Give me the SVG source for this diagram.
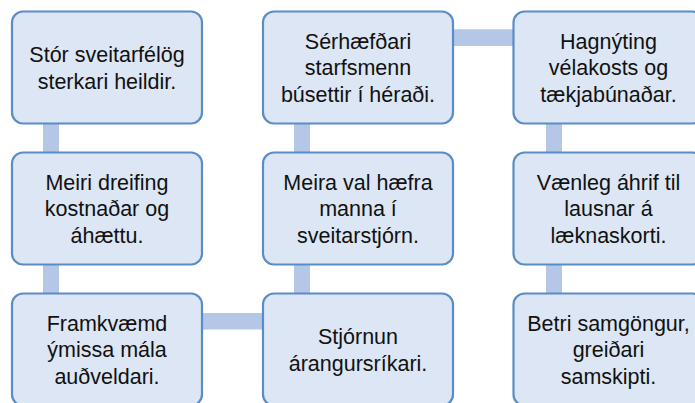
<svg xmlns="http://www.w3.org/2000/svg" width="695" height="403" viewBox="0 0 695 403">
<style>
.box{fill:#DCE6F4;stroke:#5A8CC6;stroke-width:2.2}
.con{fill:#B4C7E7}
text{font-family:"Liberation Sans",Arial,sans-serif;font-size:21.5px;fill:#111;text-anchor:middle}
</style>
<rect width="695" height="403" fill="#fff"/>
<g id="connectors">
<rect class="con" x="43" y="122" width="16" height="32"/>
<rect class="con" x="43" y="264" width="16" height="32"/>
<rect class="con" x="200" y="313" width="65" height="16.5"/>
<rect class="con" x="294" y="264" width="16" height="32"/>
<rect class="con" x="294" y="122" width="16" height="32"/>
<rect class="con" x="450" y="29.3" width="65" height="16.7"/>
<rect class="con" x="546" y="122" width="16" height="32"/>
<rect class="con" x="546" y="264" width="16" height="32"/>
</g>
<g id="n1">
<rect class="box" x="12" y="11.5" width="190" height="112" rx="11"/>
<text x="107" y="62">Stór sveitarfélög</text>
<text x="107" y="88.5">sterkari heildir.</text>
</g>
<g id="n2">
<rect class="box" x="12" y="152.5" width="190" height="112" rx="11"/>
<text x="107" y="189.5">Meiri dreifing</text>
<text x="107" y="216">kostnaðar og</text>
<text x="107" y="242.5">áhættu.</text>
</g>
<g id="n3">
<rect class="box" x="12" y="293.5" width="190" height="112" rx="11"/>
<text x="107" y="330.5">Framkvæmd</text>
<text x="107" y="357">ýmissa mála</text>
<text x="107" y="383.5">auðveldari.</text>
</g>
<g id="n4">
<rect class="box" x="263" y="293.5" width="190" height="112" rx="11"/>
<text x="358" y="344">Stjórnun</text>
<text x="358" y="370.5">árangursríkari.</text>
</g>
<g id="n5">
<rect class="box" x="263" y="152.5" width="190" height="112" rx="11"/>
<text x="358" y="189.5">Meira val hæfra</text>
<text x="358" y="216">manna í</text>
<text x="358" y="242.5">sveitarstjórn.</text>
</g>
<g id="n6">
<rect class="box" x="263" y="11.5" width="190" height="112" rx="11"/>
<text x="358" y="48.5">Sérhæfðari</text>
<text x="358" y="75">starfsmenn</text>
<text x="358" y="101.5">búsettir í héraði.</text>
</g>
<g id="n7">
<rect class="box" x="513.5" y="11.5" width="190" height="112" rx="11"/>
<text x="608.5" y="48.5">Hagnýting</text>
<text x="608.5" y="75">vélakosts og</text>
<text x="608.5" y="101.5">tækjabúnaðar.</text>
</g>
<g id="n8">
<rect class="box" x="513.5" y="152.5" width="190" height="112" rx="11"/>
<text x="608.5" y="189.5">Vænleg áhrif til</text>
<text x="608.5" y="216">lausnar á</text>
<text x="608.5" y="242.5">læknaskorti.</text>
</g>
<g id="n9">
<rect class="box" x="513.5" y="293.5" width="190" height="112" rx="11"/>
<text x="608.5" y="330.5">Betri samgöngur,</text>
<text x="608.5" y="357">greiðari</text>
<text x="608.5" y="383.5">samskipti.</text>
</g>
</svg>
